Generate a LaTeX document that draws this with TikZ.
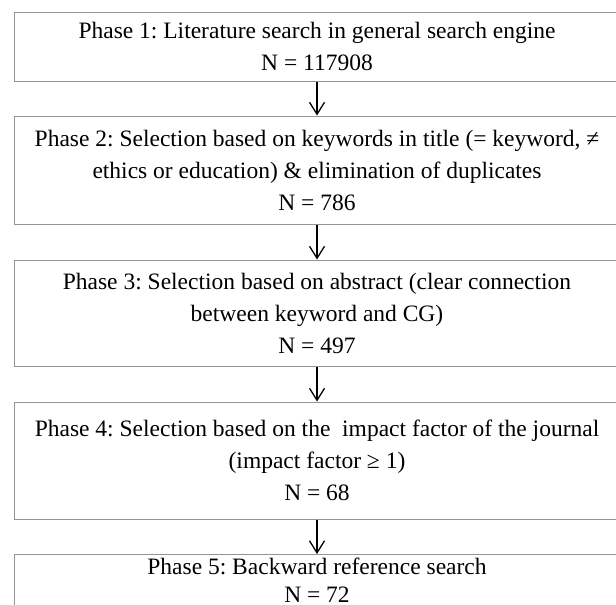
\documentclass[tikz,border=0pt]{standalone}
\usepackage{fontspec}
\setmainfont{Liberation Serif}
\usetikzlibrary{arrows.meta}
\frenchspacing
\tikzset{
  phasebox/.style={draw=black!42, line width=1pt, rectangle, minimum width=606pt, inner sep=0pt,
    align=center, font=\fontsize{23.5}{32}\selectfont, text=black},
  phasetext/.style={inner sep=0pt, align=center, font=\fontsize{23.5}{32}\selectfont, text=black},
  flowarrow/.style={draw=black, line width=1.3pt, -{Straight Barb[length=12pt,width=15pt,line width=1.3pt]}}
}
\begin{document}
\begin{tikzpicture}[x=1pt,y=-1pt]
\clip (0,0) rectangle (616,605);
\fill[white] (0,0) rectangle (616,605);
\node[phasebox, minimum height=69pt] (p1) at (317,46.5) {Phase 1: Literature search in general search engine\\N = 117908};
\node[phasebox, minimum height=108pt] (p2) at (317,170) {Phase 2: Selection based on keywords in title (= keyword, ≠\\ethics or education) \& elimination of duplicates\\N = 786};
\node[phasebox, minimum height=106pt] (p3) at (317,313) {Phase 3: Selection based on abstract (clear connection\\between keyword and CG)\\N = 497};
\node[phasebox, minimum height=117pt] (p4) at (317,460.5) {Phase 4: Selection based on the\ \ impact factor of the journal\\(impact factor ≥ 1)\\N = 68};
\node[phasebox, minimum height=90pt, anchor=north] (p5) at (317,554) {};
\node[phasetext, anchor=north] (p5t) at (317,558) {Phase 5: Backward reference search\\[-4pt]N = 72};
\draw[flowarrow] (p1.south) -- (p2.north);
\draw[flowarrow] (p2.south) -- (p3.north);
\draw[flowarrow] (p3.south) -- (p4.north);
\draw[flowarrow] (p4.south) -- (p5.north);
\end{tikzpicture}
\end{document}
